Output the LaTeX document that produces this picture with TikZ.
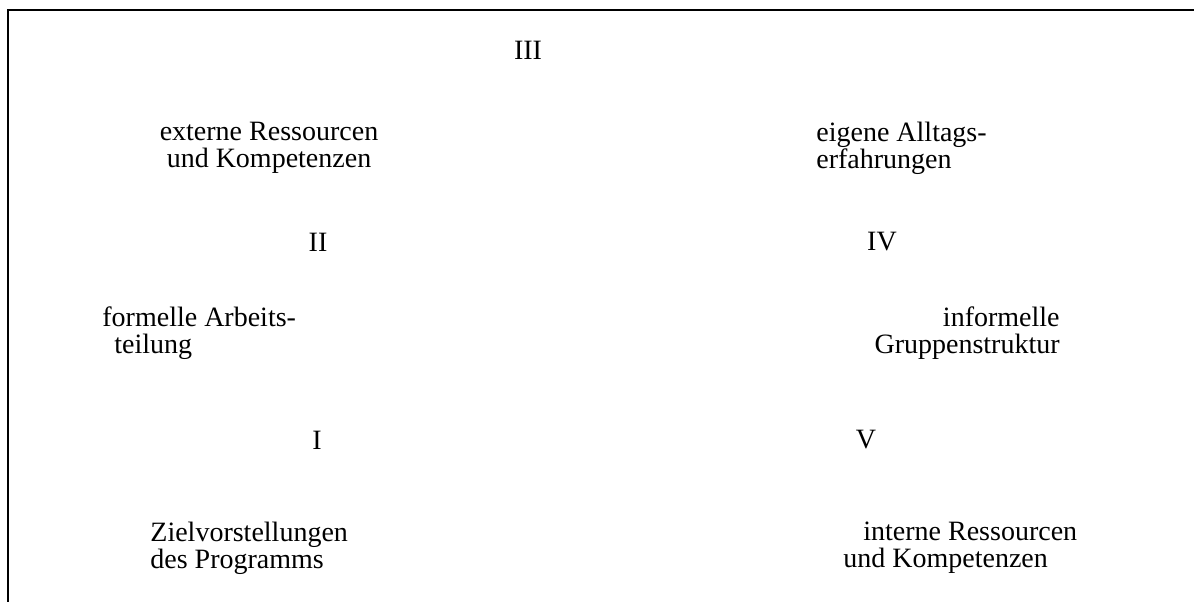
\documentclass[tikz,border=0pt]{standalone}
\usepackage{fontspec}
\setmainfont{Liberation Serif}
\begin{document}
\begin{tikzpicture}[x=0.5pt,y=-0.5pt,
  txt/.style={inner sep=0pt,font=\fontsize{14}{13.5}\selectfont},
  frame/.style={line width=1pt}]
\useasboundingbox(0,0)rectangle(1194,602);
\coordinate(tl)at(8,10);
\coordinate(tr)at(1194,10);
\coordinate(bl)at(8,602);
\draw[frame](tr)--(tl)--(bl);
\node[txt](nIII)at(528,50){III};
\node[txt,align=center](extern)at(269,148){externe Ressourcen\\und Kompetenzen};
\node[txt,align=left,anchor=west](alltag)at(816,148){eigene Alltags-\\erfahrungen};
\node[txt](nII)at(318,242){II};
\node[txt](nIV)at(882,242){IV};
\node[txt,align=left,anchor=west](formell)at(102,333){formelle Arbeits-\\\hspace*{6pt}teilung};
\node[txt,align=right,anchor=east](informell)at(1060,333){informelle\\Gruppenstruktur};
\node[txt](nI)at(317,440){I};
\node[txt](nV)at(866,440){V};
\node[txt,align=left,anchor=west](ziel)at(150,548){Zielvorstellungen\\des Programms};
\node[txt,align=left,anchor=west](intern)at(843,548){\hspace*{10pt}interne Ressourcen\\und Kompetenzen};
\end{tikzpicture}
\end{document}
